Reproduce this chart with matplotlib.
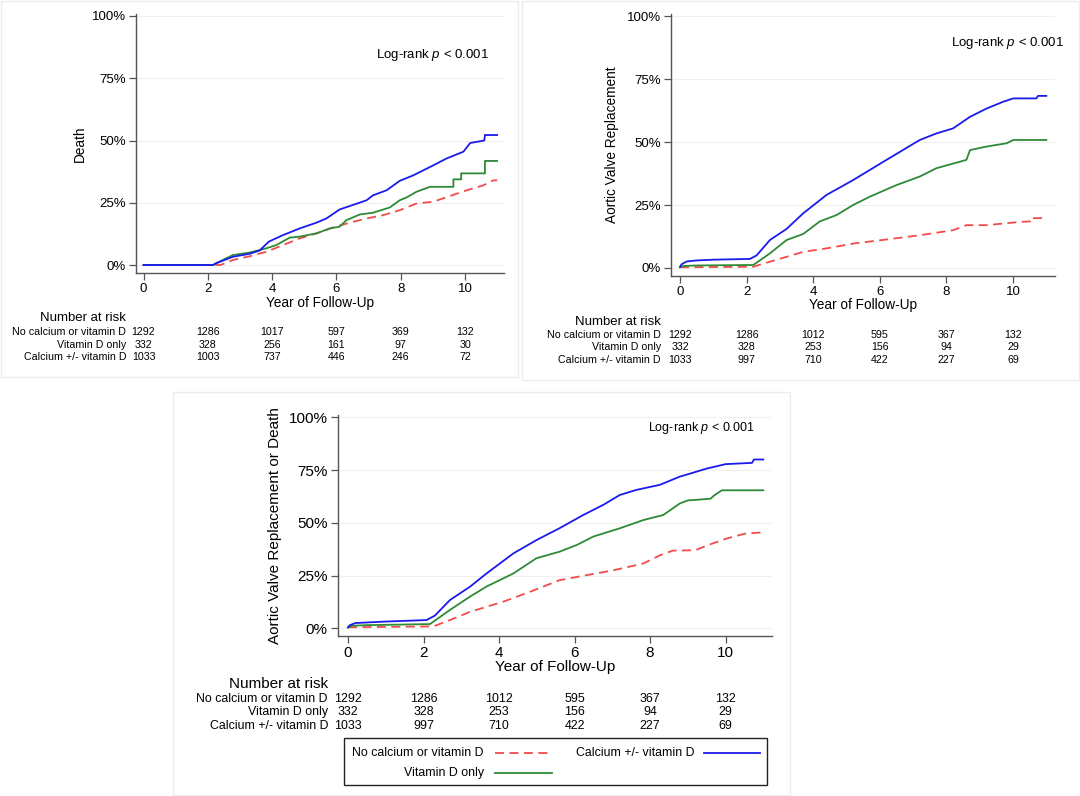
import numpy as np
import matplotlib.pyplot as plt
from matplotlib.patches import Rectangle
from matplotlib.transforms import blended_transform_factory
from matplotlib.lines import Line2D

plt.rcParams['font.family'] = ['Liberation Sans', 'DejaVu Sans']
plt.rcParams['mathtext.fontset'] = 'custom'
plt.rcParams['mathtext.it'] = 'Liberation Sans:italic'
plt.rcParams['mathtext.rm'] = 'Liberation Sans'

W, H = 1080, 796

groups = ["No calcium or vitamin D", "Vitamin D only", "Calcium +/- vitamin D"]
risk_years = [0, 2, 4, 6, 8, 10]

# Panel A: death (cumulative incidence, %)
death_none_t = [0, 2.4, 2.78, 3.3, 3.82, 4.34, 4.86, 5.38, 5.9, 6.42, 6.94, 7.45, 7.97, 8.49, 9.01, 9.53, 10.05, 10.57, 10.88, 11.0]
death_none_v = [0, 0, 2, 3.5, 5.3, 8, 10.7, 12.7, 15.1, 17, 18.7, 20, 22, 24.7, 25.4, 27.7, 30, 32, 34, 34]
death_vitd_t = [0, 2.2, 2.26, 2.78, 3.3, 3.82, 4.13, 4.55, 4.86, 5.38, 5.8, 6.1, 6.31, 6.73, 7.14, 7.66, 7.97, 8.18, 8.49, 8.91, 9.64, 9.64, 9.88, 9.88, 10.62, 10.62, 11.0]
death_vitd_v = [0, 0, 0.7, 4, 5, 6.7, 8, 11, 11.4, 12.7, 14.7, 15.4, 18, 20.3, 21, 23.1, 26, 27.1, 29.4, 31.4, 31.4, 34.4, 34.4, 36.8, 36.8, 41.8, 41.8]
death_calc_t = [0, 2.15, 2.26, 2.78, 3.3, 3.61, 3.9, 4.34, 4.86, 5.38, 5.69, 6.1, 6.42, 6.94, 7.14, 7.56, 7.97, 8.39, 9.01, 9.43, 9.95, 10.16, 10.6, 10.62, 11.0]
death_calc_v = [0, 0, 0.7, 3.3, 4.5, 5.8, 9.4, 12, 14.7, 17, 18.7, 22.3, 23.7, 26, 28, 30, 33.8, 36, 40, 42.8, 45.5, 49, 50, 52.2, 52.2]
death_risk = [[1292, 1286, 1017, 597, 369, 132],
              [332, 328, 256, 161, 97, 30],
              [1033, 1003, 737, 446, 246, 72]]

# Panel B: aortic valve replacement
avr_none_t = [0, 2.2, 2.7, 3.7, 4.5, 5.2, 6.2, 7.2, 8.2, 8.6, 9.21, 10.21, 10.55, 10.55, 11.0]
avr_none_v = [0.3, 0.5, 2.5, 6.4, 8, 9.7, 11.3, 13, 15, 17, 17, 18.3, 18.5, 19.8, 19.8]
avr_vitd_t = [0, 0.1, 0.5, 2.2, 2.7, 3.2, 3.7, 4.2, 4.7, 5.2, 5.7, 6.5, 7.2, 7.7, 8.6, 8.71, 9.21, 9.81, 10.01, 11.0]
avr_vitd_v = [0.3, 0.8, 1.0, 1.2, 5.8, 11.1, 13.5, 18.5, 21, 25, 28.3, 32.9, 36.3, 39.6, 42.9, 46.8, 48.2, 49.5, 50.8, 50.8]
avr_calc_t = [0, 0.05, 0.2, 0.5, 1.0, 2.1, 2.3, 2.7, 3.2, 3.7, 4.4, 5.2, 6.2, 7.2, 7.7, 8.2, 8.71, 9.21, 9.71, 10.01, 10.7, 10.75, 11.0]
avr_calc_v = [0.5, 1.5, 2.6, 3.0, 3.3, 3.6, 5, 11.1, 15.5, 21.7, 29, 34.9, 42.9, 50.8, 53.4, 55.4, 60, 63.3, 66, 67.3, 67.3, 68.3, 68.3]
avr_risk = [[1292, 1286, 1012, 595, 367, 132],
            [332, 328, 253, 156, 94, 29],
            [1033, 997, 710, 422, 227, 69]]

# Panel C: aortic valve replacement or death
comb_none_t = [0, 2.26, 2.7, 3.23, 4.11, 4.82, 5.6, 6.32, 7.03, 7.82, 8.26, 8.6, 9.2, 9.5, 10.0, 10.5, 11.0]
comb_none_v = [0.5, 0.9, 3.9, 7.8, 12.6, 17.3, 22.8, 25.2, 27.5, 30.7, 34.6, 36.8, 37, 39.2, 42.4, 44.8, 45.5]
comb_vitd_t = [0, 0.1, 0.5, 2.17, 2.7, 3.23, 3.67, 4.38, 4.99, 5.6, 6.06, 6.5, 7.2, 7.82, 8.35, 8.79, 9.0, 9.6, 9.7, 9.9, 11.0]
comb_vitd_v = [0.3, 1.2, 1.5, 2, 8.7, 15, 19.8, 26, 33.2, 36.3, 39.5, 43.5, 47.4, 51.3, 53.7, 59.2, 60.6, 61.4, 63, 65.4, 65.4]
comb_calc_t = [0, 0.05, 0.2, 1.0, 2.08, 2.3, 2.7, 3.23, 3.67, 4.38, 4.99, 5.6, 6.23, 6.76, 7.2, 7.64, 8.26, 8.79, 9.0, 9.5, 10.0, 10.7, 10.75, 11.0]
comb_calc_v = [0.5, 1.5, 2.5, 3.2, 3.9, 6, 13.4, 19.7, 26, 35.5, 41.8, 47.4, 53.7, 58.5, 63.2, 65.6, 68, 71.9, 73, 75.7, 77.8, 78.4, 80, 80]
comb_risk = avr_risk

RED, GREEN, BLUE = '#f24b4b', '#2e8a35', '#1a1aee'
DASH = (0, (5, 3))

fig = plt.figure(figsize=(W / 100, H / 100), dpi=100)


def fx(p):
    return p / W


def fy(p):
    return 1 - p / H


def panel(box, x0px, x10px, y0px, y100px, curves, ylabel, ylab_x, risk, rows_y, nar_y,
          xlab_xy, logrank_xy, fs):
    l, t, r, b = box
    ax = fig.add_axes([fx(l), fy(b), (r - l) / W, (b - t) / H])
    pxyr = (x10px - x0px) / 10.0
    ax.set_xlim((l - x0px) / pxyr, (r - x0px) / pxyr)
    pyu = (y0px - y100px) / 100.0
    ax.set_ylim((y0px - b) / pyu, (y0px - t) / pyu)
    for (tt, vv, c, ls) in curves:
        ax.plot(tt, vv, color=c, lw=1.3, linestyle=ls)
    ax.set_xticks([0, 2, 4, 6, 8, 10])
    ax.set_yticks([0, 25, 50, 75, 100])
    ax.set_yticklabels(['0%', '25%', '50%', '75%', '100%'])
    ax.tick_params(labelsize=fs['tick'], color='#555555', length=5, width=0.9, pad=2.5)
    ax.grid(axis='y', color='#efefef', lw=0.8)
    for s in ['top', 'right']:
        ax.spines[s].set_visible(False)
    for s in ['left', 'bottom']:
        ax.spines[s].set_color('#555555')
        ax.spines[s].set_linewidth(1.0)
    fig.text(fx(ylab_x), fy((t + b) / 2), ylabel, rotation=90, ha='center', va='center',
             fontsize=fs['label'])
    fig.text(fx(xlab_xy[0]), fy(xlab_xy[1]), 'Year of Follow-Up', ha='center', va='center',
             fontsize=fs['label'])
    fig.text(fx(logrank_xy[0]), fy(logrank_xy[1]), r'Log-rank $\it{p}$ < 0.001', ha='right',
             va='center', fontsize=fs['lr'])
    tr = blended_transform_factory(ax.transData, fig.transFigure)
    lab_x = fx(l - 10)
    fig.text(lab_x, fy(nar_y), 'Number at risk', ha='right', va='center', fontsize=fs['nar'])
    for i, g in enumerate(groups):
        fig.text(lab_x, fy(rows_y[i]), g, ha='right', va='center', fontsize=fs['row'])
        for yr, n in zip(risk_years, risk[i]):
            ax.text(yr, fy(rows_y[i]), str(n), transform=tr, ha='center', va='center',
                    fontsize=fs['row'])
    return ax


def curves_of(a, b, c):
    return [(a[0], a[1], RED, DASH), (b[0], b[1], GREEN, '-'), (c[0], c[1], BLUE, '-')]


small = dict(tick=9.5, label=9.8, lr=9.5, nar=9.5, row=7.7)
big = dict(tick=11, label=11, lr=9, nar=11, row=8.9)

panel((136, 14, 504, 273), 143.5, 465, 265, 16,
      curves_of((death_none_t, death_none_v), (death_vitd_t, death_vitd_v), (death_calc_t, death_calc_v)),
      'Death', 80, death_risk, [332, 344.5, 357], 318, (320, 303), (489, 55), small)

panel((671, 14, 1055, 276), 680, 1013, 268, 16,
      curves_of((avr_none_t, avr_none_v), (avr_vitd_t, avr_vitd_v), (avr_calc_t, avr_calc_v)),
      'Aortic Valve Replacement', 612, avr_risk, [335, 347.5, 360], 322, (863, 305), (1064, 43), small)

panel((338, 415, 772, 636), 348, 725.6, 628.3, 417.3,
      curves_of((comb_none_t, comb_none_v), (comb_vitd_t, comb_vitd_v), (comb_calc_t, comb_calc_v)),
      'Aortic Valve Replacement or Death', 275, comb_risk, [699, 712.3, 725.7], 684, (555, 667),
      (755, 428), big)

# legend box (drawn by hand to match the two-row layout)
fig.add_artist(Rectangle((fx(344), fy(785)), (767 - 344) / W, (785 - 738) / H,
                         transform=fig.transFigure, fill=False, edgecolor='#222222', lw=1.0))
legend_items = [(groups[0], RED, DASH, 484, 495, 552, 753),
                (groups[2], BLUE, '-', 694, 704, 760, 753),
                (groups[1], GREEN, '-', 484, 495, 552, 773)]
for name, c, ls, tx, lx0, lx1, ly in legend_items:
    fig.text(fx(tx), fy(ly), name, ha='right', va='center', fontsize=8.9)
    fig.add_artist(Line2D([fx(lx0), fx(lx1)], [fy(ly), fy(ly)], transform=fig.transFigure,
                          color=c, lw=1.3, linestyle=ls))

# light panel frames
for (l, t, r, b) in [(1, 1, 518, 377), (522, 1, 1079, 380), (173, 392, 790, 795)]:
    fig.add_artist(Rectangle((fx(l), fy(b)), (r - l) / W, (b - t) / H, transform=fig.transFigure,
                             fill=False, edgecolor='#ececec', lw=1))

fig.savefig('out.png', dpi=100)
